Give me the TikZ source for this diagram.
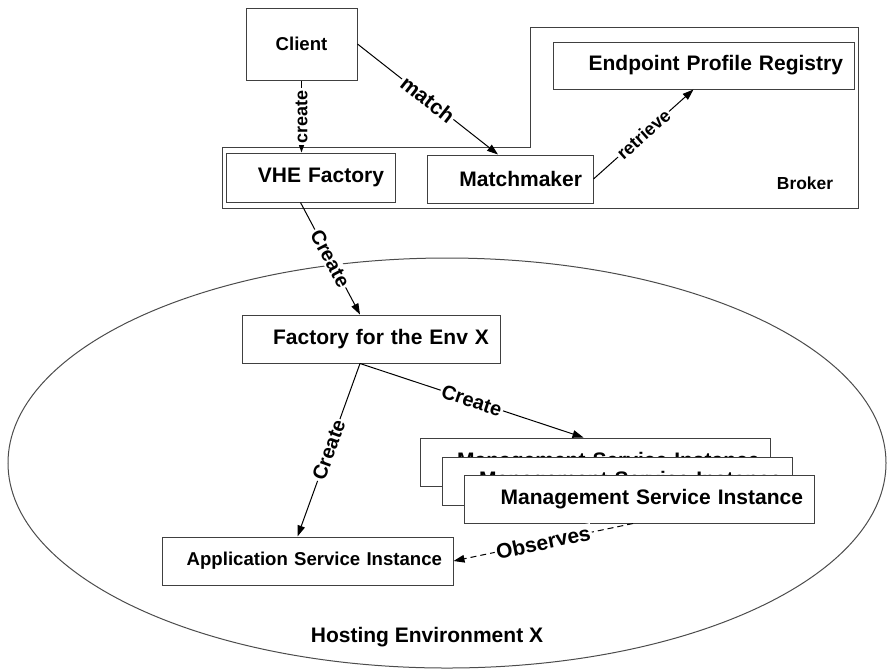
\documentclass[tikz,border=0pt]{standalone}
\usepackage{fontspec}
\setmainfont{Liberation Sans}
\usetikzlibrary{arrows.meta, shapes.geometric}

\begin{document}
\begin{tikzpicture}[x=0.5pt, y=-0.5pt, >={Triangle[length=5.5pt, width=3.8pt]},
        box/.style={draw=black!75, fill=white, line width=0.5pt, minimum height=24pt,
            inner xsep=5.5pt, align=right, text width=#1, font=\bfseries\fontsize{10.5}{12}\selectfont},
        lbl/.style={fill=white, inner sep=0.8pt, font=\bfseries\fontsize{10}{12}\selectfont},
        link/.style={line width=0.5pt}]
        \useasboundingbox (0,0) rectangle (888,671);

        % hosting environment
        \node[ellipse, draw=black!70, line width=0.5pt, minimum width=439pt, minimum height=205pt] (env) at (447,463) {};
        \node[font=\bfseries\fontsize{10.5}{12}\selectfont] (envx) at (427,637) {Hosting Environment X};

        % broker
        \draw[black!75, line width=0.5pt] (222,147) -- (530,147) -- (530,27) -- (858,27) -- (858,208) -- (222,208) -- cycle;
        \node[font=\bfseries\fontsize{8.7}{10}\selectfont] (broker) at (805,183) {Broker};

        \node[draw=black!75, fill=white, line width=0.5pt, minimum width=55.5pt, minimum height=36pt,
            font=\bfseries\fontsize{9.3}{11}\selectfont] (client) at (301.5,44) {Client};
        \node[box=73.5pt, minimum height=24.5pt] (vhe) at (310.5,177.5) {VHE Factory};
        \node[box=72pt] (mm) at (510,179) {Matchmaker};
        \node[box=139.5pt, minimum height=23.5pt] (reg) at (703.5,65.5) {Endpoint Profile Registry};

        \node[box=118pt] (fac) at (371,339) {Factory for the Env X};
        \node[box=164pt] (ms1) at (595.5,462) {Management Service Instance};
        \node[box=164pt] (ms2) at (617.5,481) {Management Service Instance};
        \node[box=164pt] (ms3) at (639,499) {Management Service Instance};
        \node[box=134.5pt, font=\bfseries\fontsize{9.3}{11}\selectfont] (app) at (307.5,561) {Application Service Instance};

        \draw[->, link] (client) -- node[lbl, rotate=90, font=\bfseries\fontsize{9}{11}\selectfont]{create} (client |- vhe.north);
        \draw[->, link] (client.east) -- node[lbl, sloped, font=\bfseries\fontsize{10.5}{12}\selectfont]{match} ([xshift=-6pt]mm.north);
        \draw[->, link] (mm.east) -- node[lbl, sloped, font=\bfseries\fontsize{9}{11}\selectfont]{retrieve} ([xshift=-5pt]reg.south);
        \draw[->, link] ([xshift=-5pt]vhe.south) -- node[lbl, sloped]{Create} ([xshift=-5.5pt]fac.north);
        \draw[->, link] ([xshift=-5.5pt]fac.south) -- node[lbl, sloped]{Create} ([xshift=-5pt]app.north);
        \draw[->, link] ([xshift=-5.5pt]fac.south) -- node[lbl, sloped]{Create} ([xshift=-6pt]ms1.north);
        \draw[->, link, dash pattern=on 3pt off 2pt] ([xshift=-3pt]ms3.south) -- node[lbl, sloped, font=\bfseries\fontsize{10.5}{12}\selectfont]{Observes} (app.east);
    \end{tikzpicture}
\end{document}
